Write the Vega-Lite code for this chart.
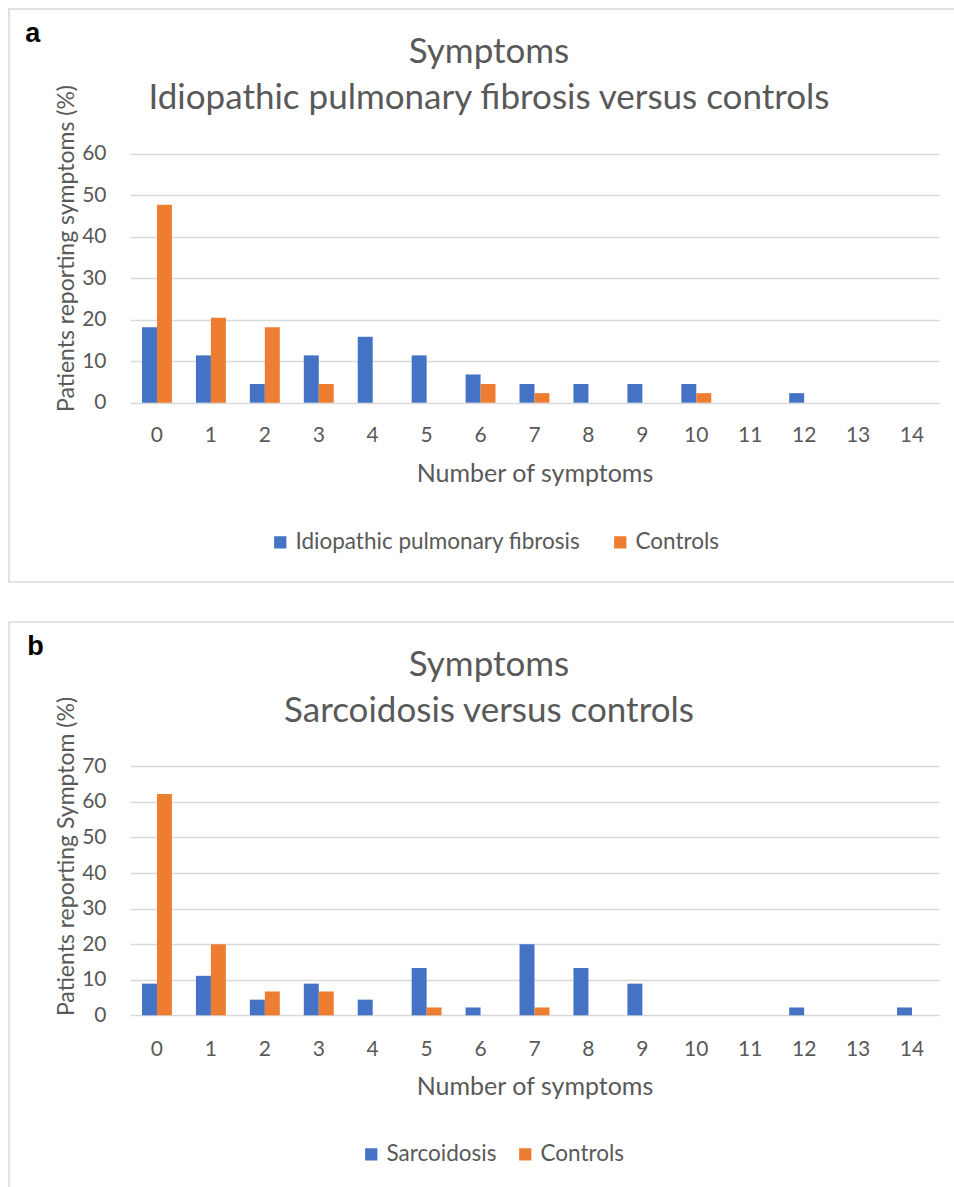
{
  "$schema": "https://vega.github.io/schema/vega-lite/v6.json",
  "background": "white",
  "padding": {"left": 8, "top": 8, "right": 0, "bottom": 0},
  "datasets": {
    "ipf": [
      {"n": 0, "group": "Idiopathic pulmonary fibrosis", "pct": 18.2},
      {"n": 1, "group": "Idiopathic pulmonary fibrosis", "pct": 11.4},
      {"n": 2, "group": "Idiopathic pulmonary fibrosis", "pct": 4.5},
      {"n": 3, "group": "Idiopathic pulmonary fibrosis", "pct": 11.4},
      {"n": 4, "group": "Idiopathic pulmonary fibrosis", "pct": 15.9},
      {"n": 5, "group": "Idiopathic pulmonary fibrosis", "pct": 11.4},
      {"n": 6, "group": "Idiopathic pulmonary fibrosis", "pct": 6.8},
      {"n": 7, "group": "Idiopathic pulmonary fibrosis", "pct": 4.5},
      {"n": 8, "group": "Idiopathic pulmonary fibrosis", "pct": 4.5},
      {"n": 9, "group": "Idiopathic pulmonary fibrosis", "pct": 4.5},
      {"n": 10, "group": "Idiopathic pulmonary fibrosis", "pct": 4.5},
      {"n": 11, "group": "Idiopathic pulmonary fibrosis", "pct": 0},
      {"n": 12, "group": "Idiopathic pulmonary fibrosis", "pct": 2.3},
      {"n": 13, "group": "Idiopathic pulmonary fibrosis", "pct": 0},
      {"n": 14, "group": "Idiopathic pulmonary fibrosis", "pct": 0},
      {"n": 0, "group": "Controls", "pct": 47.7},
      {"n": 1, "group": "Controls", "pct": 20.5},
      {"n": 2, "group": "Controls", "pct": 18.2},
      {"n": 3, "group": "Controls", "pct": 4.5},
      {"n": 4, "group": "Controls", "pct": 0},
      {"n": 5, "group": "Controls", "pct": 0},
      {"n": 6, "group": "Controls", "pct": 4.5},
      {"n": 7, "group": "Controls", "pct": 2.3},
      {"n": 8, "group": "Controls", "pct": 0},
      {"n": 9, "group": "Controls", "pct": 0},
      {"n": 10, "group": "Controls", "pct": 2.3},
      {"n": 11, "group": "Controls", "pct": 0},
      {"n": 12, "group": "Controls", "pct": 0},
      {"n": 13, "group": "Controls", "pct": 0},
      {"n": 14, "group": "Controls", "pct": 0}
    ],
    "sarc": [
      {"n": 0, "group": "Sarcoidosis", "pct": 8.9},
      {"n": 1, "group": "Sarcoidosis", "pct": 11.1},
      {"n": 2, "group": "Sarcoidosis", "pct": 4.4},
      {"n": 3, "group": "Sarcoidosis", "pct": 8.9},
      {"n": 4, "group": "Sarcoidosis", "pct": 4.4},
      {"n": 5, "group": "Sarcoidosis", "pct": 13.3},
      {"n": 6, "group": "Sarcoidosis", "pct": 2.2},
      {"n": 7, "group": "Sarcoidosis", "pct": 20.0},
      {"n": 8, "group": "Sarcoidosis", "pct": 13.3},
      {"n": 9, "group": "Sarcoidosis", "pct": 8.9},
      {"n": 10, "group": "Sarcoidosis", "pct": 0},
      {"n": 11, "group": "Sarcoidosis", "pct": 0},
      {"n": 12, "group": "Sarcoidosis", "pct": 2.2},
      {"n": 13, "group": "Sarcoidosis", "pct": 0},
      {"n": 14, "group": "Sarcoidosis", "pct": 2.2},
      {"n": 0, "group": "Controls", "pct": 62.2},
      {"n": 1, "group": "Controls", "pct": 20.0},
      {"n": 2, "group": "Controls", "pct": 6.7},
      {"n": 3, "group": "Controls", "pct": 6.7},
      {"n": 4, "group": "Controls", "pct": 0},
      {"n": 5, "group": "Controls", "pct": 2.2},
      {"n": 6, "group": "Controls", "pct": 0},
      {"n": 7, "group": "Controls", "pct": 2.2},
      {"n": 8, "group": "Controls", "pct": 0},
      {"n": 9, "group": "Controls", "pct": 0},
      {"n": 10, "group": "Controls", "pct": 0},
      {"n": 11, "group": "Controls", "pct": 0},
      {"n": 12, "group": "Controls", "pct": 0},
      {"n": 13, "group": "Controls", "pct": 0},
      {"n": 14, "group": "Controls", "pct": 0}
    ]
  },
  "spacing": 38,
  "resolve": {"scale": {"x": "independent", "y": "independent", "color": "independent", "xOffset": "independent"}, "legend": {"color": "independent"}, "axis": {"x": "independent", "y": "independent"}},
  "vconcat": [
    {
      "title": {"text": "a", "anchor": "start", "offset": -40, "dx": 17, "font": "Liberation Sans", "fontWeight": "bold", "fontSize": 27, "color": "#000000"},
      "vconcat": [
        {
          "width": 946,
          "height": 573,
          "data": {"name": "ipf"},
          "title": {"text": ["Symptoms", "Idiopathic pulmonary fibrosis versus controls"], "frame": "group", "anchor": "middle", "offset": -107, "dx": 7, "fontSize": 35, "fontWeight": "normal", "color": "#595959", "lineHeight": 46},
          "mark": {"type": "bar"},
          "encoding": {
            "x": {"field": "n", "type": "ordinal", "scale": {"range": [121, 930], "paddingInner": 0.445, "paddingOuter": 0.2225},
              "axis": {"title": "Number of symptoms", "labelAngle": 0, "offset": -179.3, "domain": false, "ticks": false, "labelPadding": 33, "labelBaseline": "middle", "titleX": 525.5, "titleY": 71, "titleBaseline": "middle", "titleFontSize": 25}},
            "xOffset": {"field": "group", "type": "nominal", "scale": {"domain": ["Idiopathic pulmonary fibrosis", "Controls"]}},
            "y": {"field": "pct", "type": "quantitative", "scale": {"domain": [0, 60], "range": [393.7, 144.7], "nice": false},
              "axis": {"title": "Patients reporting symptoms (%)", "values": [0, 10, 20, 30, 40, 50, 60], "offset": -121, "domain": false, "ticks": false, "labelPadding": 24, "grid": true, "titleX": -64, "titleY": 239, "titleAngle": -90, "titleBaseline": "middle", "titleAlign": "center"}},
            "color": {"field": "group", "type": "nominal", "scale": {"domain": ["Idiopathic pulmonary fibrosis", "Controls"], "range": ["#4472C4", "#ED7D31"]},
              "legend": {"title": null, "orient": "none", "legendX": 260, "legendY": 522, "direction": "horizontal", "symbolType": "square", "symbolSize": 150, "columnPadding": 28}}
          }
        }
      ]
    },
    {
      "title": {"text": "b", "anchor": "start", "offset": -40, "dx": 19, "font": "Liberation Sans", "fontWeight": "bold", "fontSize": 27, "color": "#000000"},
      "vconcat": [
        {
          "width": 946,
          "height": 568,
          "data": {"name": "sarc"},
          "title": {"text": ["Symptoms", "Sarcoidosis versus controls"], "frame": "group", "anchor": "middle", "offset": -107, "dx": 7, "fontSize": 35, "fontWeight": "normal", "color": "#595959", "lineHeight": 46},
          "mark": {"type": "bar"},
          "encoding": {
            "x": {"field": "n", "type": "ordinal", "scale": {"range": [121, 930], "paddingInner": 0.445, "paddingOuter": 0.2225},
              "axis": {"title": "Number of symptoms", "labelAngle": 0, "offset": -174.7, "domain": false, "ticks": false, "labelPadding": 34, "labelBaseline": "middle", "titleX": 525.5, "titleY": 71, "titleBaseline": "middle", "titleFontSize": 25}},
            "xOffset": {"field": "group", "type": "nominal", "scale": {"domain": ["Sarcoidosis", "Controls"]}},
            "y": {"field": "pct", "type": "quantitative", "scale": {"domain": [0, 70], "range": [393.3, 144.3], "nice": false},
              "axis": {"title": "Patients reporting Symptom (%)", "values": [0, 10, 20, 30, 40, 50, 60, 70], "offset": -121, "domain": false, "ticks": false, "labelPadding": 24, "grid": true, "titleX": -64, "titleY": 234, "titleAngle": -90, "titleBaseline": "middle", "titleAlign": "center"}},
            "color": {"field": "group", "type": "nominal", "scale": {"domain": ["Sarcoidosis", "Controls"], "range": ["#4472C4", "#ED7D31"]},
              "legend": {"title": null, "orient": "none", "legendX": 351, "legendY": 521, "direction": "horizontal", "symbolType": "square", "symbolSize": 150, "columnPadding": 17}}
          }
        }
      ]
    }
  ],
  "config": {
    "font": "Lato",
    "view": {"stroke": "#d9d9d9", "strokeWidth": 1.5},
    "axis": {"labelFont": "Lato", "labelFontSize": 21, "labelColor": "#595959", "titleFont": "Lato", "titleFontSize": 23, "titleFontWeight": "normal", "titleColor": "#595959", "gridColor": "#d9d9d9", "gridWidth": 1.5},
    "legend": {"labelFont": "Lato", "labelFontSize": 22.5, "labelColor": "#595959", "symbolStrokeWidth": 0, "labelLimit": 0}
  }
}
